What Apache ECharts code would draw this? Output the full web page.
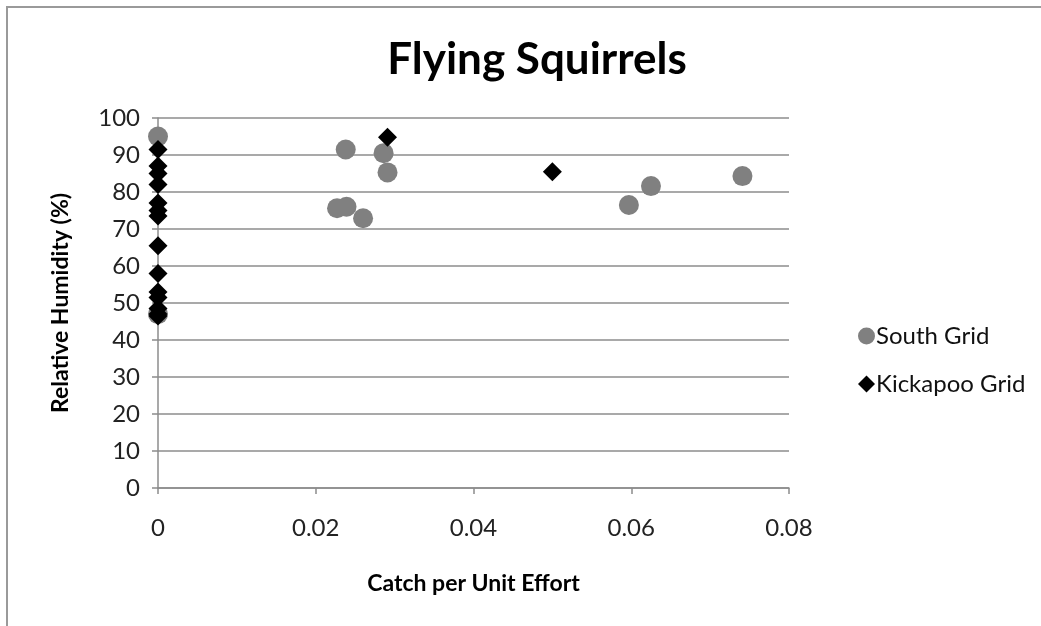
<!DOCTYPE html>
<html>
<head>
<meta charset="utf-8">
<script src="https://cdn.jsdelivr.net/npm/echarts@6/dist/echarts.min.js"></script>
<style>
html,body{margin:0;padding:0;background:#fff;}
#frame{position:absolute;left:6px;top:6px;right:-4px;bottom:-4px;border-left:2px solid #9a9a9a;border-top:2px solid #9a9a9a;}
#chart{position:absolute;left:0;top:0;width:1041px;height:626px;}
</style>
</head>
<body>
<div id="frame"></div>
<div id="chart"></div>
<script>
const titleText = "Flying Squirrels";
const xAxisName = "Catch per Unit Effort";
const yAxisName = "Relative Humidity (%)";
const seriesNames = ["South Grid", "Kickapoo Grid"];
const southX = [0, 0, 0.0238, 0.0286, 0.0291, 0.0227, 0.0239, 0.0260, 0.0597, 0.0625, 0.0741];
const southY = [95, 47, 91.5, 90.5, 85.3, 75.6, 76.0, 72.9, 76.5, 81.6, 84.3];
const kickX = [0, 0, 0, 0, 0, 0, 0, 0, 0, 0, 0, 0, 0, 0, 0.0291, 0.0500];
const kickY = [91.5, 87, 85, 82, 77, 75, 73.5, 65.5, 58, 53, 51.5, 48.5, 47, 46.5, 94.8, 85.5];

const fontFam = "Lato, 'Open Sans', sans-serif";
const chart = echarts.init(document.getElementById('chart'));
chart.setOption({
  animation: false,
  title: {
    text: titleText, left: 532, top: 33, textAlign: 'center',
    textStyle: { fontFamily: fontFam, fontSize: 44, fontWeight: 'bold', color: '#000' }
  },
  legend: {
    orient: 'vertical', left: 853, top: 319, itemGap: 24,
    itemWidth: 17, itemHeight: 17,
    textStyle: { fontFamily: fontFam, fontSize: 24, color: '#111', padding: [0,0,0,-4] },
    data: [
      { name: seriesNames[0], icon: 'circle' },
      { name: seriesNames[1], icon: 'diamond' }
    ]
  },
  grid: { left: 158, top: 118, width: 631, height: 370, containLabel: false },
  xAxis: {
    type: 'value', min: 0, max: 0.08, interval: 0.02,
    name: xAxisName, nameLocation: 'middle', nameGap: 84,
    nameTextStyle: { fontFamily: fontFam, fontSize: 23, fontWeight: 'bold', color: '#000' },
    axisLine: { show: true, lineStyle: { color: '#8c8c8c', width: 1.5 } },
    axisTick: { show: true, length: 6, lineStyle: { color: '#8c8c8c', width: 1.5 } },
    axisLabel: { fontFamily: fontFam, fontSize: 24, color: '#222', margin: 28 },
    splitLine: { show: false }
  },
  yAxis: {
    type: 'value', min: 0, max: 100, interval: 10,
    name: yAxisName, nameLocation: 'middle', nameGap: 86, nameRotate: 90,
    nameTextStyle: { fontFamily: fontFam, fontSize: 23, fontWeight: 'bold', color: '#000' },
    axisLine: { show: true, lineStyle: { color: '#8c8c8c', width: 1.5 } },
    axisTick: { show: true, length: 6, lineStyle: { color: '#8c8c8c', width: 1.5 } },
    axisLabel: { fontFamily: fontFam, fontSize: 24, color: '#222', margin: 18 },
    splitLine: { show: true, lineStyle: { color: '#8c8c8c', width: 1.5 } }
  },
  series: [
    {
      name: seriesNames[0], type: 'scatter', symbol: 'circle', symbolSize: 20,
      itemStyle: { color: '#808080', opacity: 1 },
      data: southX.map((x, i) => [x, southY[i]])
    },
    {
      name: seriesNames[1], type: 'scatter', symbol: 'diamond', symbolSize: 19,
      itemStyle: { color: '#000', opacity: 1 },
      data: kickX.map((x, i) => [x, kickY[i]])
    }
  ]
});
</script>
</body>
</html>
